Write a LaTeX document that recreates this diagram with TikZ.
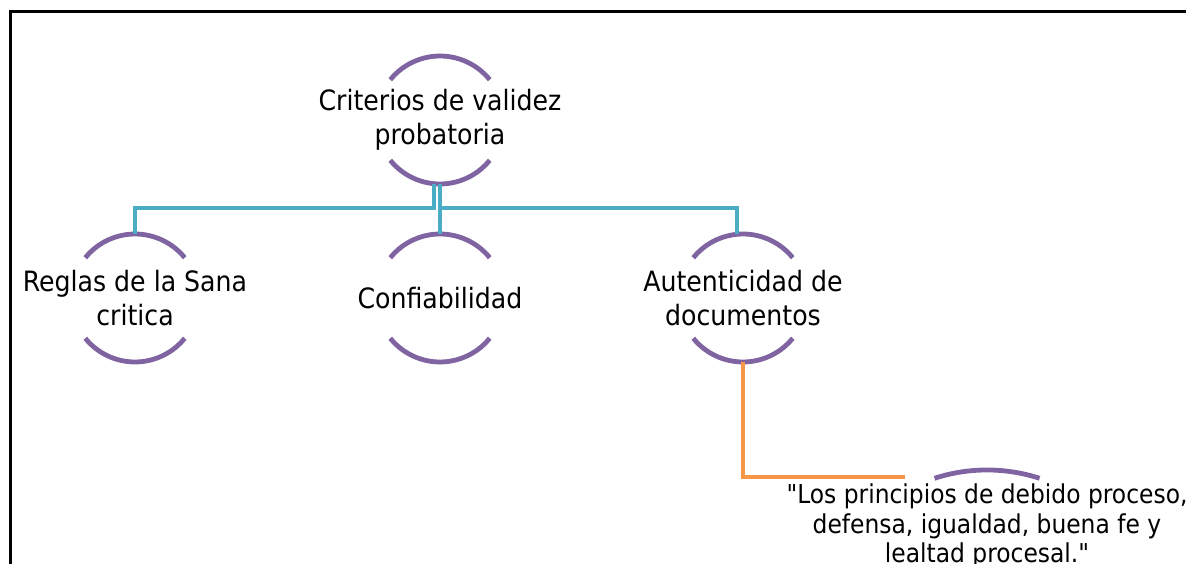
\documentclass[tikz,border=0pt]{standalone}
\usepackage{fontspec}
\setmainfont{DejaVu Sans Condensed}[Ligatures=TeXOff]
\usepackage{tikz}
\definecolor{ringc}{RGB}{128, 100, 162}
\definecolor{tealc}{RGB}{75, 172, 198}
\definecolor{orangec}{RGB}{247, 150, 70}
\usetikzlibrary{positioning}

\begin{document}
\begin{tikzpicture}[x=0.75pt, y=0.75pt,
  ring/.style={circle, minimum size=96pt, inner sep=0pt, outer sep=0pt},
  ringtext/.style={align=center, inner sep=0pt, font=\fontsize{21}{25.5}\selectfont},
  ringarc/.style={line width=3.6pt, color=ringc},
  tealline/.style={line width=3.6pt, color=tealc},
  orangeline/.style={line width=3.6pt, color=orangec},
  frame/.style={line width=2.25pt, color=black}]
\useasboundingbox (0,0) rectangle (1186,564);
\draw [frame] (1200,552) -- (10,552) -- (10,-20);
% nodes
\node (top) [ring, label={[ringtext]center:Criterios de validez\\probatoria}] at (440,444) {};
\node (reglas) [ring, label={[ringtext]center:Reglas de la Sana\\critica}] at (135,266) {};
\node (confi) [ring, label={[ringtext]center:Confiabilidad}] at (440,266) {};
\node (auten) [ring, label={[ringtext]center:Autenticidad de\\documentos}] at (743,266) {};
\node (princ) [align=center, inner sep=0pt, font=\fontsize{19.5}{22}\selectfont] at (987,38) {\textquotedbl Los principios de debido proceso,\\defensa, igualdad, buena fe y\\lealtad procesal.\textquotedbl};
\coordinate (princend) at (905,87);
% arcs
\foreach \n in {top, reglas, confi, auten} {
  \draw [ringarc] (\n.39) arc[start angle=39, end angle=141, radius=48pt];
  \draw [ringarc] (\n.219) arc[start angle=219, end angle=321, radius=48pt];
}
\draw [ringarc] (934.5,85.7) arc[start angle=108, end angle=72, radius=127.5pt];
% connectors
\draw [tealline] ([xshift=-4.5pt]top.south) -- ++(0,-24) -| (reglas.north);
\draw [tealline] (top.south) -- ++(0,-24) -| ([xshift=-4.5pt]auten.north);
\draw [tealline] (top.south) -- (confi.north);
\draw [orangeline] (auten.south) |- (princend);
\end{tikzpicture}
\end{document}
